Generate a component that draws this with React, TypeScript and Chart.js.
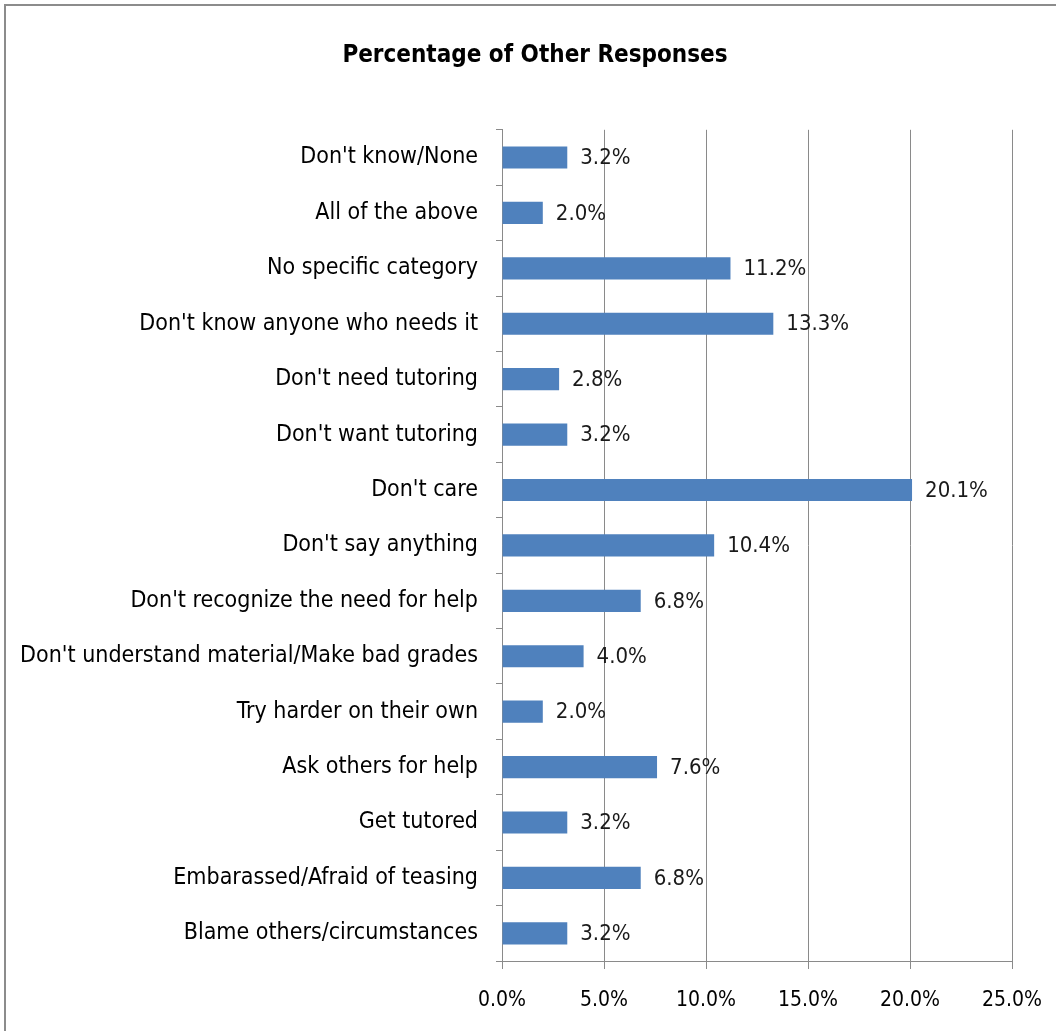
import React, { useEffect, useRef } from "react";
import { Chart, registerables } from "chart.js";

Chart.register(...registerables);

const categories = [
  "Don't know/None",
  "All of the above",
  "No specific category",
  "Don't know anyone who needs it",
  "Don't need tutoring",
  "Don't want tutoring",
  "Don't care",
  "Don't say anything",
  "Don't recognize the need for help",
  "Don't understand material/Make bad grades",
  "Try harder on their own",
  "Ask others for help",
  "Get tutored",
  "Embarassed/Afraid of teasing",
  "Blame others/circumstances",
];

const values = [3.2, 2.0, 11.2, 13.3, 2.8, 3.2, 20.1, 10.4, 6.8, 4.0, 2.0, 7.6, 3.2, 6.8, 3.2];

const xTicks = [0, 5, 10, 15, 20, 25];

const FONT = "'Liberation Sans Narrow', 'DejaVu Sans Condensed', 'Liberation Sans', sans-serif";

const valueLabels = {
  id: "valueLabels",
  afterDatasetsDraw(chart: any) {
    const ctx = chart.ctx;
    const meta = chart.getDatasetMeta(0);
    ctx.save();
    ctx.font = `22px ${FONT}`;
    ctx.fillStyle = "#1a1a1a";
    ctx.textAlign = "left";
    ctx.textBaseline = "middle";
    meta.data.forEach((bar: any, i: number) => {
      ctx.fillText(values[i].toFixed(1) + "%", bar.x + 13, bar.y + 1);
    });
    ctx.restore();
  },
};

export default function App() {
  const ref = useRef<HTMLCanvasElement>(null);
  useEffect(() => {
    if (!ref.current) return;
    const chart = new Chart(ref.current, {
      type: "bar",
      data: {
        labels: categories,
        datasets: [
          {
            data: values,
            backgroundColor: "#4F81BD",
            borderWidth: 0,
            barPercentage: 0.4,
            categoryPercentage: 1,
          },
        ],
      },
      options: {
        indexAxis: "y",
        animation: false,
        responsive: false,
        layout: { padding: { top: 0, right: 0, bottom: 0, left: 8 } },
        plugins: {
          legend: { display: false },
          tooltip: { enabled: false },
          title: {
            display: true,
            text: "Percentage of Other Responses",
            color: "#000",
            font: { family: FONT, size: 24, weight: "bold", lineHeight: 1.2 },
            padding: { top: 35, bottom: 60 },
          },
        },
        scales: {
          x: {
            min: 0,
            max: 25,
            afterBuildTicks: (scale: any) => {
              scale.ticks = xTicks.map((v) => ({ value: v }));
            },
            afterFit: (scale: any) => {
              scale.height = 70;
              scale.paddingLeft = 0;
              scale.paddingRight = 44;
            },
            ticks: {
              color: "#000",
              font: { family: FONT, size: 21 },
              padding: 19,
              callback: (v: any) => Number(v).toFixed(1) + "%",
              maxRotation: 0,
            },
            grid: { color: "#8a8a8a", lineWidth: 1, tickLength: 8, drawTicks: true },
            border: { color: "#8a8a8a", width: 1 },
          },
          y: {
            afterFit: (scale: any) => {
              scale.width = 488;
            },
            ticks: {
              color: "#000",
              font: { family: FONT, size: 23 },
              padding: 18,
              autoSkip: false,
            },
            grid: { drawOnChartArea: false, color: "#8a8a8a", tickLength: 6, offset: true },
            border: { color: "#8a8a8a", width: 1 },
          },
        },
      },
      plugins: [valueLabels],
    });
    return () => chart.destroy();
  }, []);
  return (
    <div
      style={{
        position: "absolute",
        left: 4,
        top: 4,
        width: 1050,
        height: 1025,
        borderTop: "2px solid #8c8c8c",
        borderLeft: "2px solid #8c8c8c",
        background: "#fff",
      }}
    >
      <canvas ref={ref} width={1050} height={1025} style={{ display: "block" }} />
    </div>
  );
}
